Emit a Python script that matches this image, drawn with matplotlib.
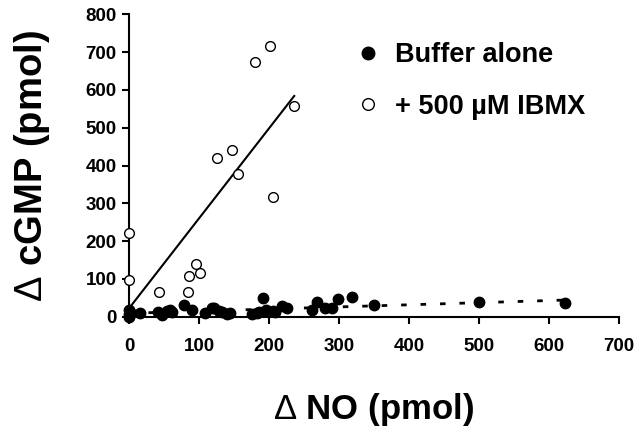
import matplotlib
matplotlib.use("Agg")
import matplotlib.pyplot as plt
import numpy as np

plt.rcParams['font.family'] = ['Liberation Sans', 'DejaVu Sans']
plt.rcParams['mathtext.fontset'] = 'custom'
plt.rcParams['mathtext.rm'] = 'Liberation Sans:weight=normal'
plt.rcParams['mathtext.it'] = 'Liberation Sans:italic:weight=normal'
plt.rcParams['mathtext.bf'] = 'Liberation Sans:weight=bold'

# Buffer alone (filled circles)
buffer_no = [0, 0, 0, 1, 16, 42, 47, 54, 58, 61, 78, 90, 109, 118, 122, 128, 133, 140, 144,
             176, 183, 185, 192, 195, 205, 209, 218, 226, 261, 268, 280, 290, 299, 319, 350, 500, 623]
buffer_cgmp = [0, 6, 18, 13, 11, 13, 5, 16, 18, 13, 31, 18, 11, 22, 22, 16, 13, 8, 10,
               8, 9, 12, 49, 18, 15, 13, 28, 22, 18, 40, 22, 22, 46, 53, 31, 38, 35]

# + 500 uM IBMX (open circles)
ibmx_no = [0, 0, 43, 84, 86, 96, 101, 125, 147, 155, 180, 202, 206, 236]
ibmx_cgmp = [222, 97, 66, 66, 108, 139, 116, 421, 442, 378, 674, 717, 317, 557]

# fitted lines
ibmx_fit_x = [0, 236]
ibmx_fit_y = [22, 584]
buffer_fit_x = [0, 623]
buffer_fit_y = [9, 44]

x_ticks = [0, 100, 200, 300, 400, 500, 600, 700]
y_ticks = [0, 100, 200, 300, 400, 500, 600, 700, 800]

fig = plt.figure(figsize=(6.4, 4.34), dpi=100)
ax = fig.add_axes([0.2016, 0.2703, 0.7656, 0.6967])

ax.plot(ibmx_fit_x, ibmx_fit_y, color='black', lw=1.5, zorder=2)
ax.plot(buffer_fit_x, buffer_fit_y, color='black', lw=2, linestyle=(0, (2, 5)), zorder=2)

ax.plot(ibmx_no, ibmx_cgmp, linestyle='none', marker='o', markersize=7,
        markerfacecolor='white', markeredgecolor='black', markeredgewidth=1.0,
        clip_on=False, zorder=3, label='+ 500 µM IBMX')
ax.plot(buffer_no, buffer_cgmp, linestyle='none', marker='o', markersize=7.5,
        markerfacecolor='black', markeredgecolor='black',
        clip_on=False, zorder=4, label='Buffer alone')

ax.set_xlim(0, 700)
ax.set_ylim(0, 800)
ax.set_xticks(x_ticks)
ax.set_yticks(y_ticks)
ax.tick_params(axis='both', direction='out', length=5, width=1.5, labelsize=13.5)
ax.tick_params(axis='x', pad=10)
ax.tick_params(axis='y', pad=4)
for lab in ax.get_xticklabels() + ax.get_yticklabels():
    lab.set_fontweight('bold')

for s in ['top', 'right']:
    ax.spines[s].set_visible(False)
for s in ['left', 'bottom']:
    ax.spines[s].set_linewidth(1.5)

ax.set_xlabel(r'$\mathrm{\Delta}$ NO (pmol)', fontsize=25, fontweight='bold', labelpad=26)
ax.set_ylabel(r'$\mathrm{\Delta}$ cGMP (pmol)', fontsize=27.5, fontweight='bold', labelpad=24)

handles, labels = ax.get_legend_handles_labels()
leg = ax.legend([handles[1], handles[0]], [labels[1], labels[0]],
                loc='upper left', bbox_to_anchor=(354 / 640, 1 - 42 / 434),
                bbox_transform=fig.transFigure, frameon=False, fontsize=19.5,
                handlelength=1.0, handletextpad=0.5, labelspacing=0.95,
                borderpad=0, borderaxespad=0, markerscale=1.2)
for t in leg.get_texts():
    t.set_fontweight('bold')

fig.savefig('out.png', dpi=100)
